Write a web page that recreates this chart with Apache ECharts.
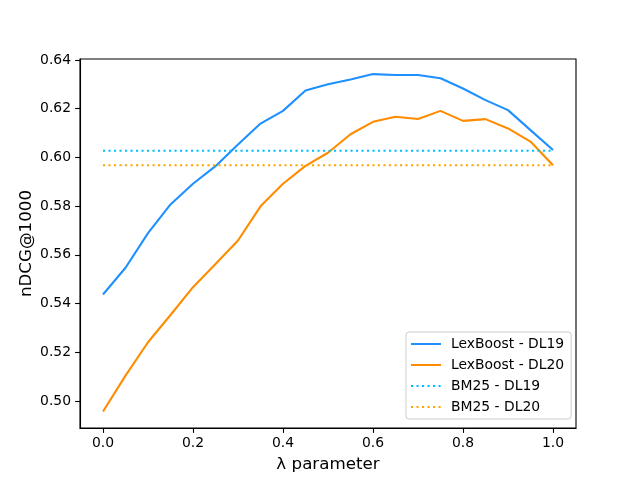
<!DOCTYPE html>
<html>
<head>
<meta charset="utf-8">
<script src="https://cdn.jsdelivr.net/npm/echarts@6/dist/echarts.min.js"></script>
<style>
  html, body { margin: 0; padding: 0; background: #fff; }
  #chart { width: 640px; height: 480px; }
</style>
</head>
<body>
<div id="chart"></div>
<script type="text/javascript">
// lambda values on the x axis
var lambdas = [0.0, 0.05, 0.1, 0.15, 0.2, 0.25, 0.3, 0.35, 0.4, 0.45, 0.5,
               0.55, 0.6, 0.65, 0.7, 0.75, 0.8, 0.85, 0.9, 0.95, 1.0];
// nDCG@1000
var lexDL19 = [0.5437, 0.5547, 0.5689, 0.5807, 0.5892, 0.5964, 0.6053, 0.6139, 0.6191, 0.6275, 0.6300,
               0.6320, 0.6342, 0.6338, 0.6338, 0.6325, 0.6283, 0.6235, 0.6194, 0.6112, 0.6030];
var lexDL20 = [0.4957, 0.5104, 0.5241, 0.5353, 0.5467, 0.5562, 0.5659, 0.5799, 0.5892, 0.5965, 0.6019,
               0.6095, 0.6146, 0.6167, 0.6158, 0.6191, 0.6150, 0.6157, 0.6119, 0.6065, 0.5968];
var bm25DL19 = 0.6027;
var bm25DL20 = 0.5968;
// tick labels
var xTicks = [0.0, 0.2, 0.4, 0.6, 0.8, 1.0];
var yTicks = [0.50, 0.52, 0.54, 0.56, 0.58, 0.60, 0.62, 0.64];

function pairs(ys) {
  return lambdas.map(function (x, i) { return [x, ys[i]]; });
}
function flat(v) {
  return [[lambdas[0], v], [lambdas[lambdas.length - 1], v]];
}

var font = 'DejaVu Sans';
var chart = echarts.init(document.getElementById('chart'), null, { renderer: 'canvas' });

var option = {
  animation: false,
  backgroundColor: '#fff',
  textStyle: { fontFamily: font },
  grid: {
    left: 80, right: 64, top: 59, bottom: 52,
    show: true, borderColor: '#000', borderWidth: 1.1, backgroundColor: 'transparent'
  },
  legend: {
    orient: 'vertical',
    left: 406, top: 332,
    itemWidth: 30, itemHeight: 14, itemGap: 7,
    padding: [5, 7, 5, 4],
    backgroundColor: 'rgba(255,255,255,0.8)',
    borderColor: '#cccccc', borderWidth: 1, borderRadius: 3,
    itemStyle: { opacity: 0, borderWidth: 0 },
    textStyle: { fontFamily: font, fontSize: 13.9, color: '#000', padding: [0, 0, 0, 5] },
    data: ['LexBoost - DL19', 'LexBoost - DL20', 'BM25 - DL19', 'BM25 - DL20']
  },
  xAxis: {
    type: 'value',
    min: -0.0511, max: 1.0511,
    name: 'λ parameter',
    nameLocation: 'middle', nameGap: 28,
    nameMoveOverlap: false,
    nameTextStyle: { fontFamily: font, fontSize: 16.7, color: '#000' },
    axisLine: { show: true, onZero: false, lineStyle: { color: '#000', width: 1.1 } },
    axisTick: { show: true, inside: false, length: 4.9, lineStyle: { color: '#000', width: 1.1 }, customValues: xTicks },
    axisLabel: {
      show: true, margin: 8, fontFamily: font, fontSize: 13.9, color: '#000',
      customValues: xTicks,
      formatter: function (v) { return v.toFixed(1); }
    },
    splitLine: { show: false }
  },
  yAxis: {
    type: 'value',
    min: 0.4889, max: 0.6404,
    name: 'nDCG@1000',
    nameLocation: 'middle', nameGap: 45,
    nameMoveOverlap: false,
    nameTextStyle: { fontFamily: font, fontSize: 16.7, color: '#000' },
    axisLine: { show: true, onZero: false, lineStyle: { color: '#000', width: 1.1 } },
    axisTick: { show: true, inside: false, length: 4.9, lineStyle: { color: '#000', width: 1.1 }, customValues: yTicks },
    axisLabel: {
      show: true, margin: 9, fontFamily: font, fontSize: 13.9, color: '#000',
      customValues: yTicks,
      formatter: function (v) { return v.toFixed(2); }
    },
    splitLine: { show: false }
  },
  series: [
    {
      name: 'LexBoost - DL19', type: 'line', data: pairs(lexDL19),
      symbol: 'none', color: '#1e90ff',
      lineStyle: { color: '#1e90ff', width: 2.08 }
    },
    {
      name: 'LexBoost - DL20', type: 'line', data: pairs(lexDL20),
      symbol: 'none', color: '#ff8c00',
      lineStyle: { color: '#ff8c00', width: 2.08 }
    },
    {
      name: 'BM25 - DL19', type: 'line', data: flat(bm25DL19),
      symbol: 'none', color: '#00bfff',
      lineStyle: { color: '#00bfff', width: 2.08, type: [2.1, 3.4] }
    },
    {
      name: 'BM25 - DL20', type: 'line', data: flat(bm25DL20),
      symbol: 'none', color: '#ffa500',
      lineStyle: { color: '#ffa500', width: 2.08, type: [2.1, 3.4] }
    }
  ]
};

chart.setOption(option);
</script>
</body>
</html>
